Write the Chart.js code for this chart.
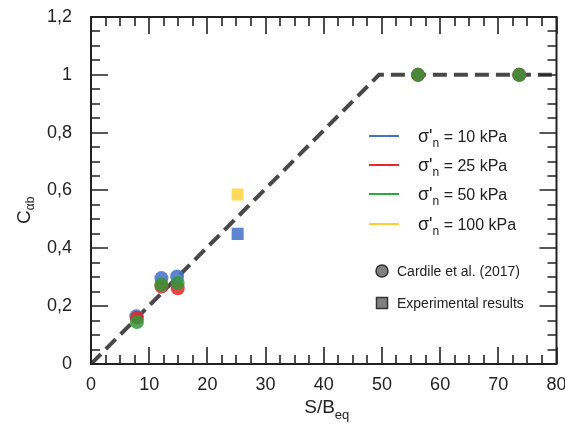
<!DOCTYPE html>
<html><head><meta charset="utf-8">
<script src="https://cdn.jsdelivr.net/npm/chart.js@4/dist/chart.umd.min.js"></script>
<style>html,body{margin:0;padding:0;background:#fff}#wrap{width:565px;height:431px;position:relative}</style>
</head><body><div id="wrap"><canvas id="c"></canvas></div>
<script>
// ---- data ----
const xTickValues = [0, 10, 20, 30, 40, 50, 60, 70, 80];
const yTickValues = [0, 0.2, 0.4, 0.6, 0.8, 1, 1.2];
const stressLabels = ["10 kPa", "25 kPa", "50 kPa", "100 kPa"];
const trendX = [0, 49.5, 80];
const trendY = [0, 1, 1];
const cardile10X = [7.8, 12.1, 14.8, 56.2, 73.6];
const cardile10Y = [0.165, 0.297, 0.303, 1, 1];
const cardile25X = [7.9, 12.1, 14.9, 56.2, 73.6];
const cardile25Y = [0.160, 0.268, 0.262, 1, 1];
const cardile50X = [7.9, 12.1, 14.9, 56.2, 73.6];
const cardile50Y = [0.145, 0.275, 0.280, 1, 1];
const exp10X = [25.2];
const exp10Y = [0.45];
const exp100X = [25.2];
const exp100Y = [0.586];
const sourceLabels = ["Cardile et al. (2017)", "Experimental results"];

const colBlue = 'rgba(68,112,200,0.85)';
const colRed = 'rgba(228,38,38,0.85)';
const colGreen = 'rgba(52,150,58,0.85)';
const colYellow = 'rgba(255,210,60,0.85)';
const legendColors = ['#4472C4', '#E8282B', '#2EA83F', '#FFCC33'];

const pts = (xs, ys) => xs.map((x, i) => ({x, y: ys[i]}));
const fmt = v => String(Number(v.toFixed(2))).replace('.', ',');

const FONT = '"Liberation Sans", Arial, sans-serif';
const INK = '#222';

const decor = {
  id: 'decor',
  afterDraw(chart) {
    const ctx = chart.ctx;
    const xs = chart.scales.x, ys = chart.scales.y;
    const L = xs.left, R = xs.right, T = ys.top, B = ys.bottom;
    ctx.save();
    ctx.strokeStyle = INK;
    ctx.lineWidth = 2;
    ctx.strokeRect(L, T, R - L, B - T);
    ctx.lineWidth = 1.6;
    ctx.beginPath();
    for (let v = 0; v <= 80.001; v += 2.5) {
      const px = Math.round(xs.getPixelForValue(v));
      const len = Math.abs(v % 10) < 1e-6 ? 17 : 9;
      ctx.moveTo(px, B); ctx.lineTo(px, B - len);
      ctx.moveTo(px, T); ctx.lineTo(px, T + len);
    }
    for (let k = 0; k <= 24; k++) {
      const v = k * 0.05;
      const py = Math.round(ys.getPixelForValue(v));
      const len = k % 4 === 0 ? 17 : 9;
      ctx.moveTo(L, py); ctx.lineTo(L + len, py);
      ctx.moveTo(R, py); ctx.lineTo(R - len, py);
    }
    ctx.stroke();

    // axis titles
    ctx.fillStyle = INK;
    ctx.textBaseline = 'alphabetic';
    ctx.textAlign = 'left';
    const main = 'S/B';
    ctx.font = '19px ' + FONT; const w1 = ctx.measureText(main).width;
    ctx.font = '13px ' + FONT; const w2 = ctx.measureText('eq').width;
    const cx = (L + R) / 2 + 3;
    let sx = cx - (w1 + w2) / 2;
    ctx.font = '19px ' + FONT; ctx.fillText(main, sx, 413);
    ctx.font = '13px ' + FONT; ctx.fillText('eq', sx + w1, 419);
    ctx.save();
    ctx.translate(30, 224);
    ctx.rotate(-Math.PI / 2);
    ctx.font = '19px ' + FONT; ctx.fillText('C', 0, 0);
    const wc = ctx.measureText('C').width;
    ctx.font = '12px ' + FONT; ctx.fillText('αb', wc, 4);
    ctx.restore();

    // legend
    const ly = [136, 165, 194, 224];
    for (let i = 0; i < 4; i++) {
      ctx.strokeStyle = legendColors[i];
      ctx.lineWidth = 2;
      ctx.beginPath(); ctx.moveTo(369, ly[i]); ctx.lineTo(399, ly[i]); ctx.stroke();
      ctx.fillStyle = legendColors[i];
      ctx.beginPath(); ctx.arc(390, ly[i], 1.3, 0, Math.PI * 2); ctx.fill();
      ctx.fillStyle = INK;
      ctx.font = '18px ' + FONT;
      ctx.fillText("σ'", 418, ly[i] + 6);
      const ws = ctx.measureText("σ'").width;
      ctx.font = '12px ' + FONT;
      ctx.fillText('n', 418 + ws, ly[i] + 11);
      const wn = ctx.measureText('n').width;
      ctx.font = '16px ' + FONT;
      ctx.fillText(' = ' + stressLabels[i], 418 + ws + wn, ly[i] + 6);
    }
    ctx.fillStyle = '#808080';
    ctx.strokeStyle = '#333';
    ctx.lineWidth = 1.5;
    ctx.beginPath(); ctx.arc(382, 271, 6, 0, Math.PI * 2); ctx.fill(); ctx.stroke();
    ctx.fillRect(376.5, 297.5, 11, 11); ctx.strokeRect(376.5, 297.5, 11, 11);
    ctx.fillStyle = INK;
    ctx.font = '14px ' + FONT;
    ctx.fillText(sourceLabels[0], 397, 276);
    ctx.fillText(sourceLabels[1], 397, 308);
    ctx.restore();
  }
};

const circle = (label, data, color, order) => ({
  type: 'scatter', label, data, order,
  pointStyle: 'circle', pointRadius: 7, pointHoverRadius: 7,
  backgroundColor: color, borderWidth: 0, showLine: false
});
const square = (label, data, color, order) => ({
  type: 'scatter', label, data, order,
  pointStyle: 'rect', pointRadius: 8.5, pointHoverRadius: 8.5,
  backgroundColor: color, borderWidth: 0, showLine: false
});

new Chart(document.getElementById('c'), {
  type: 'scatter',
  data: {
    datasets: [
      circle('Cardile 10 kPa', pts(cardile10X, cardile10Y), colBlue, 3),
      circle('Cardile 25 kPa', pts(cardile25X, cardile25Y), colRed, 2),
      circle('Cardile 50 kPa', pts(cardile50X, cardile50Y), colGreen, 1),
      square('Experimental 10 kPa', pts(exp10X, exp10Y), colBlue, 1),
      square('Experimental 100 kPa', pts(exp100X, exp100Y), colYellow, 1),
      {
        type: 'line', label: 'Trend', data: pts(trendX, trendY), order: 10,
        borderColor: '#484848', borderWidth: 4, borderDash: [14, 7],
        pointRadius: 0, fill: false, tension: 0
      }
    ]
  },
  options: {
    responsive: true, maintainAspectRatio: false, animation: false,
    layout: { padding: { top: 17, right: 8, left: 0, bottom: 0 } },
    plugins: { legend: { display: false }, tooltip: { enabled: false } },
    scales: {
      x: {
        type: 'linear', min: 0, max: 80,
        grid: { display: false, drawTicks: false }, border: { display: false },
        afterBuildTicks: s => { s.ticks = xTickValues.map(v => ({value: v})); },
        ticks: { callback: v => fmt(v), color: INK, font: { size: 18, family: FONT }, padding: 10, maxRotation: 0, autoSkip: false },
        afterFit: s => { s.height = 67; s.paddingLeft = 0; s.paddingRight = 0; }
      },
      y: {
        type: 'linear', min: 0, max: 1.2,
        grid: { display: false, drawTicks: false }, border: { display: false },
        afterBuildTicks: s => { s.ticks = yTickValues.map(v => ({value: v})); },
        ticks: { callback: v => fmt(v), color: INK, font: { size: 18, family: FONT }, padding: 19, autoSkip: false },
        afterFit: s => { s.width = 91; s.paddingTop = 0; s.paddingBottom = 0; }
      }
    }
  },
  plugins: [decor]
});
</script></body></html>
